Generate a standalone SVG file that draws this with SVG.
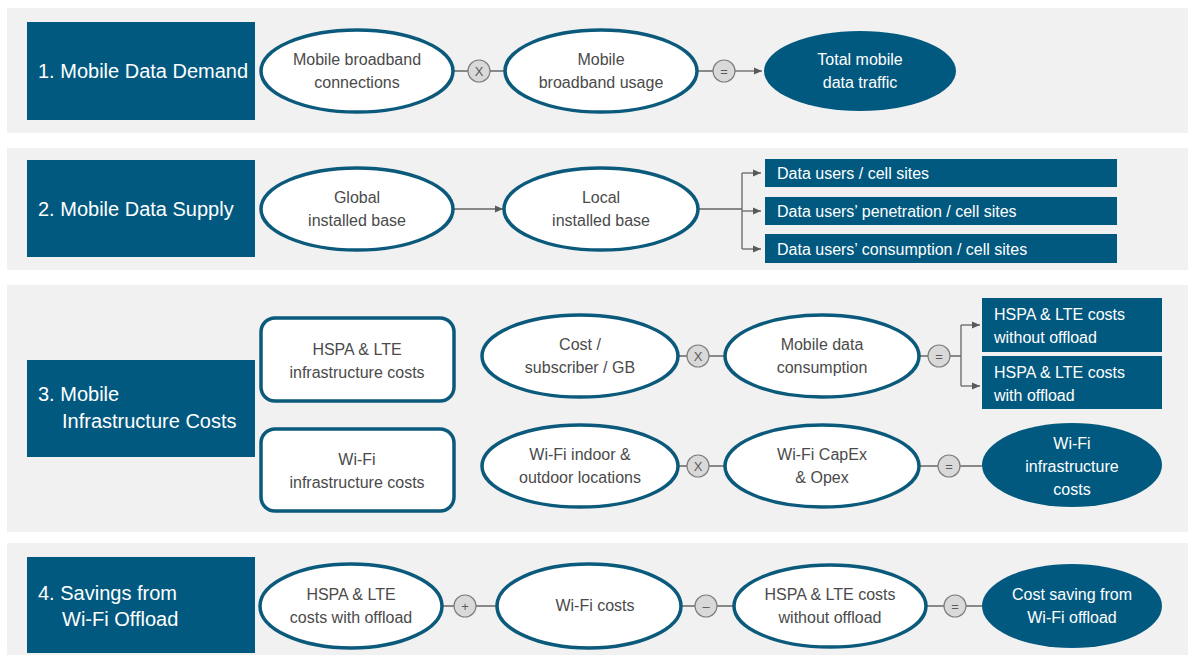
<svg xmlns="http://www.w3.org/2000/svg" width="1194" height="658" viewBox="0 0 1194 658">
<defs>
<marker id="arr" markerWidth="10" markerHeight="10" refX="9" refY="5" orient="auto" markerUnits="userSpaceOnUse">
<path d="M1,1.5 L9,5 L1,8.5 Z" fill="#595959"/>
</marker>
<style>
.band{fill:#f1f1f1}
.title{fill:#02597f}
.tt{font-family:"Liberation Sans",Arial,sans-serif;font-size:20px;fill:#ffffff}
.el{fill:#ffffff;stroke:#0b5a7c;stroke-width:3.5}
.fel{fill:#02597f}
.box{fill:#02597f}
.tx{font-family:"Liberation Sans",Arial,sans-serif;font-size:16px;fill:#4a4a4a;text-anchor:middle}
.wt{font-family:"Liberation Sans",Arial,sans-serif;font-size:16px;fill:#ffffff;text-anchor:middle}
.wl{font-family:"Liberation Sans",Arial,sans-serif;font-size:16px;fill:#ffffff}
.op{fill:#d9d9d9;stroke:#7f7f7f;stroke-width:1.2}
.ot{font-family:"Liberation Sans",Arial,sans-serif;font-size:13px;fill:#595959;text-anchor:middle}
.ln{stroke:#666666;stroke-width:1.3;fill:none}
</style>
</defs>
<rect width="1194" height="658" fill="#ffffff"/>
<g id="bands">
<rect class="band" x="7" y="8" width="1181" height="125"/>
<rect class="band" x="7" y="148" width="1181" height="122"/>
<rect class="band" x="7" y="285" width="1181" height="247"/>
<rect class="band" x="7" y="543" width="1181" height="112"/>
</g>
<g id="connectors">
<line class="ln" x1="453" y1="71" x2="505" y2="71"/>
<line class="ln" x1="698" y1="71" x2="736" y2="71"/>
<line class="ln" x1="736" y1="71" x2="762" y2="71" marker-end="url(#arr)"/>
<line class="ln" x1="453" y1="209" x2="503" y2="209" marker-end="url(#arr)"/>
<line class="ln" x1="699" y1="209" x2="742" y2="209"/>
<path class="ln" d="M742,173 V249"/>
<line class="ln" x1="742" y1="173" x2="761" y2="173" marker-end="url(#arr)"/>
<line class="ln" x1="742" y1="211" x2="761" y2="211" marker-end="url(#arr)"/>
<line class="ln" x1="742" y1="249" x2="761" y2="249" marker-end="url(#arr)"/>
<line class="ln" x1="679" y1="356" x2="724" y2="356"/>
<line class="ln" x1="920" y1="356" x2="961" y2="356"/>
<path class="ln" d="M961,325 V386"/>
<line class="ln" x1="961" y1="325" x2="980" y2="325" marker-end="url(#arr)"/>
<line class="ln" x1="961" y1="386" x2="980" y2="386" marker-end="url(#arr)"/>
<line class="ln" x1="679" y1="466" x2="724" y2="466"/>
<line class="ln" x1="920" y1="466" x2="982" y2="466"/>
<line class="ln" x1="442" y1="606" x2="497" y2="606"/>
<line class="ln" x1="681" y1="606" x2="734" y2="606"/>
<line class="ln" x1="926" y1="606" x2="982" y2="606"/>
</g>
<g id="title1"><rect class="title" x="27" y="22" width="228" height="98"/><text class="tt" x="38" y="78">1. Mobile Data Demand</text></g>
<g id="title2"><rect class="title" x="27" y="160" width="228" height="97"/><text class="tt" x="38" y="216">2. Mobile Data Supply</text></g>
<g id="title3"><rect class="title" x="27" y="360" width="228" height="97"/><text class="tt" x="38" y="401">3. Mobile</text><text class="tt" x="62" y="428">Infrastructure  Costs</text></g>
<g id="title4"><rect class="title" x="27" y="557" width="228" height="96"/><text class="tt" x="38" y="600">4. Savings from</text><text class="tt" x="62" y="626">Wi-Fi Offload</text></g>

<g id="n1a"><ellipse class="el" cx="357" cy="71" rx="96" ry="41"/><text class="tx" x="357" y="65">Mobile broadband</text><text class="tx" x="357" y="88">connections</text></g>
<g id="op1a"><circle class="op" cx="479" cy="71" r="11"/><text class="ot" x="479" y="76">X</text></g>
<g id="n1b"><ellipse class="el" cx="601" cy="71" rx="96" ry="41"/><text class="tx" x="601" y="65">Mobile</text><text class="tx" x="601" y="88">broadband usage</text></g>
<g id="op1b"><circle class="op" cx="724" cy="71" r="11"/><text class="ot" x="724" y="76">=</text></g>
<g id="n1c"><ellipse class="fel" cx="860" cy="71" rx="96" ry="40"/><text class="wt" x="860" y="65">Total mobile</text><text class="wt" x="860" y="88">data traffic</text></g>

<g id="n2a"><ellipse class="el" cx="357" cy="209" rx="96" ry="41"/><text class="tx" x="357" y="203">Global</text><text class="tx" x="357" y="226">installed base</text></g>
<g id="n2b"><ellipse class="el" cx="601" cy="209" rx="97" ry="41"/><text class="tx" x="601" y="203">Local</text><text class="tx" x="601" y="226">installed base</text></g>
<g id="b2a"><rect class="box" x="765" y="159" width="352" height="28"/><text class="wl" x="777" y="179">Data users / cell sites</text></g>
<g id="b2b"><rect class="box" x="765" y="197" width="352" height="28"/><text class="wl" x="777" y="217">Data users’ penetration / cell sites</text></g>
<g id="b2c"><rect class="box" x="765" y="234" width="352" height="29"/><text class="wl" x="777" y="255">Data users’ consumption / cell sites</text></g>

<g id="r3a"><rect class="el" x="261" y="318" width="193" height="83" rx="14"/><text class="tx" x="357" y="355">HSPA &amp; LTE</text><text class="tx" x="357" y="378">infrastructure  costs</text></g>
<g id="r3b"><rect class="el" x="261" y="429" width="193" height="82" rx="14"/><text class="tx" x="357" y="465">Wi-Fi</text><text class="tx" x="357" y="488">infrastructure  costs</text></g>
<g id="n3a"><ellipse class="el" cx="580" cy="356" rx="98" ry="41"/><text class="tx" x="580" y="350">Cost /</text><text class="tx" x="580" y="373">subscriber / GB</text></g>
<g id="op3a"><circle class="op" cx="698" cy="356" r="11"/><text class="ot" x="698" y="361">X</text></g>
<g id="n3b"><ellipse class="el" cx="822" cy="356" rx="97" ry="41"/><text class="tx" x="822" y="350">Mobile data</text><text class="tx" x="822" y="373">consumption</text></g>
<g id="op3b"><circle class="op" cx="939" cy="356" r="11"/><text class="ot" x="939" y="361">=</text></g>
<g id="b3a"><rect class="box" x="982" y="298" width="180" height="54"/><text class="wl" x="994" y="320">HSPA &amp; LTE costs</text><text class="wl" x="994" y="343">without offload</text></g>
<g id="b3b"><rect class="box" x="982" y="356" width="180" height="53"/><text class="wl" x="994" y="378">HSPA &amp; LTE costs</text><text class="wl" x="994" y="401">with offload</text></g>
<g id="n3c"><ellipse class="el" cx="580" cy="466" rx="98" ry="41"/><text class="tx" x="580" y="460">Wi-Fi indoor &amp;</text><text class="tx" x="580" y="483">outdoor locations</text></g>
<g id="op3c"><circle class="op" cx="698" cy="466" r="11"/><text class="ot" x="698" y="471">X</text></g>
<g id="n3d"><ellipse class="el" cx="822" cy="466" rx="97" ry="41"/><text class="tx" x="822" y="460">Wi-Fi CapEx</text><text class="tx" x="822" y="483">&amp; Opex</text></g>
<g id="op3d"><circle class="op" cx="949" cy="466" r="11"/><text class="ot" x="949" y="471">=</text></g>
<g id="n3e"><ellipse class="fel" cx="1072" cy="465" rx="90" ry="42"/><text class="wt" x="1072" y="449">Wi-Fi</text><text class="wt" x="1072" y="472">infrastructure</text><text class="wt" x="1072" y="495">costs</text></g>

<g id="n4a"><ellipse class="el" cx="351" cy="606" rx="91" ry="42"/><text class="tx" x="351" y="600">HSPA &amp; LTE</text><text class="tx" x="351" y="623">costs with offload</text></g>
<g id="op4a"><circle class="op" cx="465" cy="606" r="11"/><text class="ot" x="465" y="611">+</text></g>
<g id="n4b"><ellipse class="el" cx="589" cy="606" rx="92" ry="42"/><text class="tx" x="595" y="611">Wi-Fi costs</text></g>
<g id="op4b"><circle class="op" cx="706" cy="606" r="11"/><text class="ot" x="706" y="611">–</text></g>
<g id="n4c"><ellipse class="el" cx="830" cy="606" rx="96" ry="41"/><text class="tx" x="830" y="600">HSPA &amp; LTE costs</text><text class="tx" x="830" y="623">without offload</text></g>
<g id="op4c"><circle class="op" cx="955" cy="606" r="11"/><text class="ot" x="955" y="611">=</text></g>
<g id="n4d"><ellipse class="fel" cx="1072" cy="606" rx="90" ry="42"/><text class="wt" x="1072" y="600">Cost saving from</text><text class="wt" x="1072" y="623">Wi-Fi offload</text></g>
</svg>
